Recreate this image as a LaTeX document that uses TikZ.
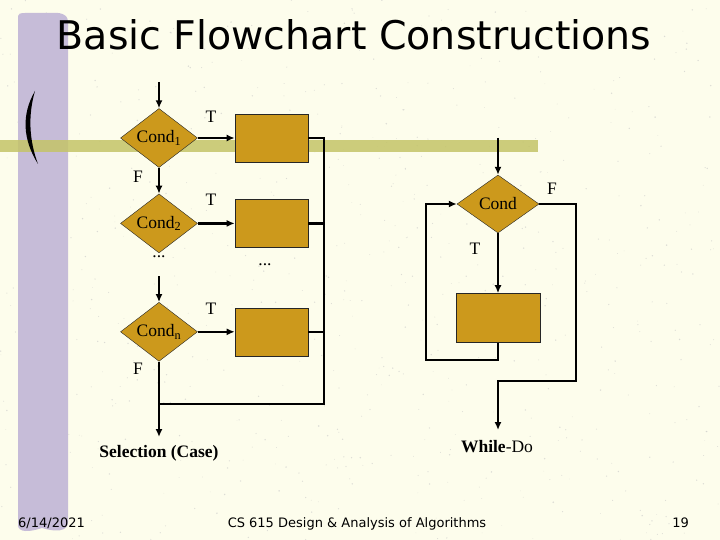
\documentclass[tikz,border=0pt]{standalone}
\usepackage{fontspec}
\setmainfont{Liberation Serif}
\newfontfamily\slidefont{DejaVu Sans}
\usetikzlibrary{arrows.meta,positioning,shapes.geometric}
\definecolor{bgcream}{RGB}{253,253,236}
\definecolor{lilac}{RGB}{198,188,216}
\definecolor{olivebar}{RGB}{196,196,104}
\definecolor{gold}{RGB}{204,153,28}
\tikzset{
  cond/.style={diamond,draw=black!85,fill=gold,inner sep=0pt,aspect=1.3,
    minimum width=77pt,minimum height=59pt,font=\fontsize{17.5}{20}\selectfont},
  proc/.style={draw=black!85,fill=gold,minimum width=73pt,minimum height=48pt},
  flow/.style={-{Latex[length=8pt,width=7pt]},line width=2.4pt},
  link/.style={line width=2.4pt},
  tf/.style={font=\fontsize{17.5}{20}\selectfont,inner sep=0pt},
  foot/.style={font=\slidefont\fontsize{13}{15}\selectfont,inner sep=0pt},
}

\begin{document}
\begin{tikzpicture}[x=1pt,y=-1pt]
  \fill[bgcream] (0,0) rectangle (720,540);
  \useasboundingbox (0,0) rectangle (720,540);
  \pgfmathsetseed{615}
  \foreach \i in {1,...,700}
    \fill[gray!45,opacity=0.6] (720*rnd,540*rnd) circle (0.3+0.5*rnd);
  \fill[lilac] (18,16) -- (18,525) .. controls (18,533) and (30,532) .. (42,528)
    .. controls (55,532) and (68,532) .. (68,522) -- (68,22)
    .. controls (68,14) and (60,12) .. (50,13) -- (25,13)
    .. controls (20,13) and (18,14) .. (18,16) -- cycle;
  \fill[olivebar,opacity=0.85] (0,140) rectangle (538,152);
  \fill (35,91) .. controls (21,115) and (23,140) .. (38,164)
    .. controls (29,140) and (28,115) .. (35,91) -- cycle;

  \node[font=\slidefont\fontsize{39.5}{44}\selectfont,anchor=base] (title) at (354,50)
    {Basic Flowchart Constructions};

  % selection (case)
  \node[cond] (c1) at (159,138) {Cond\textsubscript{1}};
  \node[proc,right=37pt of c1] (b1) {};
  \node[cond,below=26pt of c1] (c2) {Cond\textsubscript{2}};
  \node[proc,right=37pt of c2] (b2) {};
  \node[cond,below=49pt of c2] (cn) {Cond\textsubscript{n}};
  \node[proc,right=37pt of cn] (bn) {};

  \coordinate (in1) at (159,82);
  \coordinate (inn) at (159,276);
  \coordinate (bus) at (324,138);
  \coordinate (join) at (159,404);
  \coordinate (out1) at (159,437);

  \draw[flow] (in1) -- (c1.north);
  \draw[flow] (c1.south) -- (c2.north);
  \draw[flow] (inn) -- (cn.north);
  \draw[flow] (c1.east) -- (b1.west);
  \draw[flow] (c2.east) -- (b2.west);
  \draw[flow] (cn.east) -- (bn.west);
  \draw[link] (b1.east) -| (join -| bus) -- (join);
  \draw[link] (b2.east) -- (b2.east -| bus);
  \draw[link] (bn.east) -- (bn.east -| bus);
  \draw[flow] (cn.south) -- (out1);

  \node[tf] (t1) at (211,117) {T};
  \node[tf] (t2) at (211,200) {T};
  \node[tf] (tn) at (211,309) {T};
  \node[tf] (f1) at (138,177) {F};
  \node[tf] (fn) at (138,369) {F};
  \node[tf] (dots1) at (159,257) {...};
  \node[tf] (dots2) at (265,265) {...};
  \node[tf,font=\fontsize{17.5}{20}\selectfont\bfseries] (sel) at (159,453) {Selection (Case)};

  % while-do
  \node[cond,aspect=1.4,minimum width=82pt,minimum height=58pt] (wc) at (498,204) {Cond};
  \node[proc,below=60pt of wc,minimum width=84pt,minimum height=49pt] (wb) {};

  \coordinate (win) at (498,138);
  \coordinate (wback) at (426,360);
  \coordinate (wright) at (576,381);
  \coordinate (wout) at (498,430);

  \draw[flow] (win) -- (wc.north);
  \draw[flow] (wc.south) -- (wb.north);
  \draw[flow] (wb.south) |- (wback) |- (wc.west);
  \draw[flow] (wc.east) -| (wright) -| (wout);

  \node[tf] (wf) at (552,189) {F};
  \node[tf] (wt) at (475,249) {T};
  \node[tf] (wl) at (497,447) {\textbf{While}-Do};

  % footer
  \node[foot,anchor=base west] (date) at (18,527) {6/14/2021};
  \node[foot,anchor=base] (course) at (357,527) {CS 615 Design \& Analysis of Algorithms};
  \node[foot,anchor=base east] (page) at (689,527) {19};
\end{tikzpicture}
\end{document}
